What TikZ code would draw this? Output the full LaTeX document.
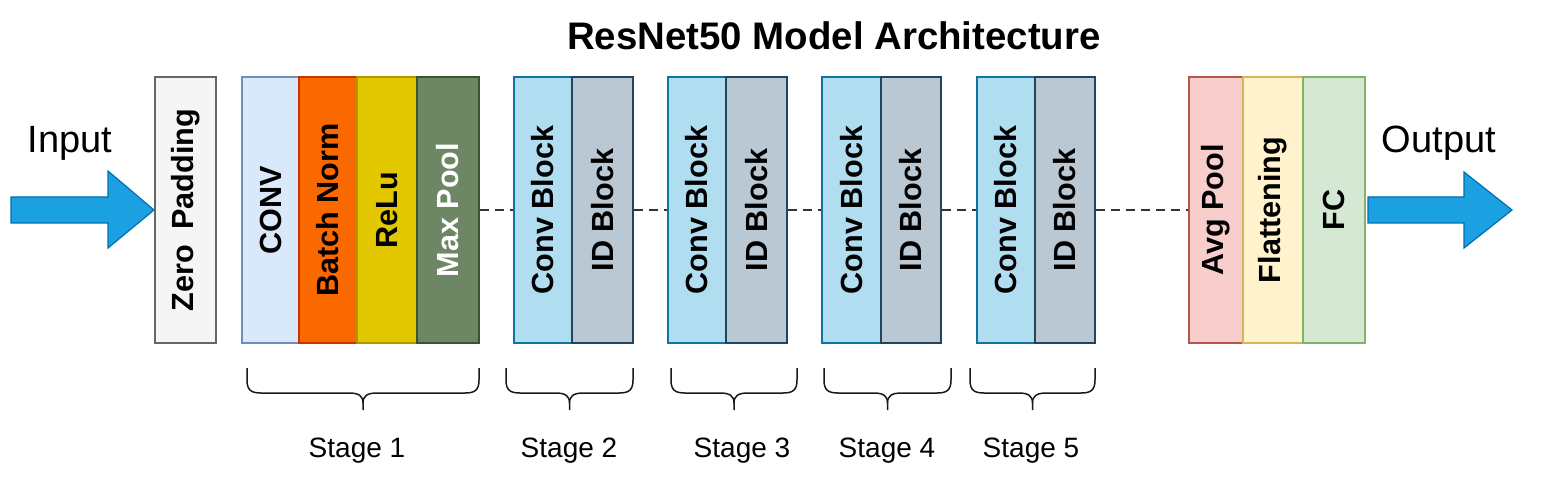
\documentclass[tikz,border=0pt]{standalone}
\usepackage{fontspec}
\setmainfont{Liberation Sans}
\usetikzlibrary{fit}
\definecolor{zpF}{HTML}{F5F5F5}\definecolor{zpD}{HTML}{666666}
\definecolor{cvF}{HTML}{DAE8FC}\definecolor{cvD}{HTML}{6C8EBF}
\definecolor{bnF}{HTML}{FA6800}\definecolor{bnD}{HTML}{C73500}
\definecolor{reF}{HTML}{E3C800}\definecolor{reD}{HTML}{B09500}
\definecolor{mpF}{HTML}{6D8764}\definecolor{mpD}{HTML}{3A5431}
\definecolor{cbF}{HTML}{B1DDF0}\definecolor{cbD}{HTML}{10739E}
\definecolor{idF}{HTML}{BAC8D3}\definecolor{idD}{HTML}{23445D}
\definecolor{apF}{HTML}{F8CECC}\definecolor{apD}{HTML}{B85450}
\definecolor{flF}{HTML}{FFF2CC}\definecolor{flD}{HTML}{D6B656}
\definecolor{fcF}{HTML}{D5E8D4}\definecolor{fcD}{HTML}{82B366}
\definecolor{arF}{HTML}{1BA1E2}\definecolor{arD}{HTML}{006EAF}
\newcommand\stagebrace[2]{%
  \draw[bracestyle] (#1,368) -- (#1,380)
    .. controls (#1,390) and ({#1+4},393) .. ({#1+14},393)
    -- ({(#1+#2)/2-14},393)
    .. controls ({(#1+#2)/2-4},393) and ({(#1+#2)/2},396) .. ({(#1+#2)/2},403)
    -- ({(#1+#2)/2},410);
  \draw[bracestyle] ({(#1+#2)/2},403)
    .. controls ({(#1+#2)/2},396) and ({(#1+#2)/2+4},393) .. ({(#1+#2)/2+14},393)
    -- ({#2-14},393)
    .. controls ({#2-4},393) and (#2,390) .. (#2,380) -- (#2,368);}
\begin{document}
\begin{tikzpicture}[x=0.5pt,y=-0.5pt,
  layer/.style={draw, line width=1pt, inner sep=0pt},
  vtext/.style={rotate=90, inner sep=0pt,
    font=\bfseries\fontsize{15.3}{18}\selectfont},
  link/.style={draw=black!80, line width=1pt, dash pattern=on 4.5pt off 3pt},
  bracestyle/.style={draw=black!90, line width=0.75pt},
  bigarrow/.style={fill=arF, draw=arD, line width=0.6pt},
  stagelbl/.style={anchor=base, font=\fontsize{14}{16}\selectfont},
  iolbl/.style={anchor=base, font=\fontsize{19}{22}\selectfont}]
\useasboundingbox (0,0) rectangle (1544,492);
\fill[white] (0,0) rectangle (1544,492);

\node[anchor=base, font=\bfseries\fontsize{19.2}{22}\selectfont] (title) at (834,50) {ResNet50 Model Architecture};

% arrows
\draw[bigarrow] (11,197) -- (108,197) -- (108,171) -- (154,210) -- (108,248) -- (108,223) -- (11,223) -- cycle;
\draw[bigarrow] (1368,197) -- (1464,197) -- (1464,172) -- (1512,210) -- (1464,248) -- (1464,223) -- (1368,223) -- cycle;
\node[iolbl] (inlbl) at (70,153) {Input};
\node[iolbl] (outlbl) at (1439,153) {Output};

% layers
\node[layer, fill=zpF, draw=zpD, fit={(155,77) (216,343)}] (zp) {};
\node[layer, fill=cvF, draw=cvD, fit={(242,77) (299,343)}] (conv) {};
\node[layer, fill=bnF, draw=bnD, fit={(299,77) (357,343)}] (bn) {};
\node[layer, fill=reF, draw=reD, fit={(357,77) (417,343)}] (relu) {};
\node[layer, fill=mpF, draw=mpD, fit={(417,77) (479,343)}] (mp) {};
\node[layer, fill=cbF, draw=cbD, fit={(514,77) (572,343)}] (c2) {};
\node[layer, fill=idF, draw=idD, fit={(572,77) (633,343)}] (i2) {};
\node[layer, fill=cbF, draw=cbD, fit={(668,77) (726,343)}] (c3) {};
\node[layer, fill=idF, draw=idD, fit={(726,77) (787,343)}] (i3) {};
\node[layer, fill=cbF, draw=cbD, fit={(822,77) (881,343)}] (c4) {};
\node[layer, fill=idF, draw=idD, fit={(881,77) (941,343)}] (i4) {};
\node[layer, fill=cbF, draw=cbD, fit={(977,77) (1035,343)}] (c5) {};
\node[layer, fill=idF, draw=idD, fit={(1035,77) (1095,343)}] (i5) {};
\node[layer, fill=apF, draw=apD, fit={(1189,77) (1243,343)}] (ap) {};
\node[layer, fill=flF, draw=flD, fit={(1243,77) (1303,343)}] (fl) {};
\node[layer, fill=fcF, draw=fcD, fit={(1303,77) (1365,343)}] (fc) {};

% layer texts
\node[vtext] (zpt) at (zp.center) {Zero\enspace Padding};
\node[vtext] (convt) at (conv.center) {CONV};
\node[vtext] (bnt) at (bn.center) {Batch Norm};
\node[vtext] (relut) at (relu.center) {ReLu};
\node[vtext, text=white] (mpt) at (mp.center) {Max Pool};
\node[vtext] (c2t) at (c2.center) {Conv Block};
\node[vtext] (i2t) at (i2.center) {ID Block};
\node[vtext] (c3t) at (c3.center) {Conv Block};
\node[vtext] (i3t) at (i3.center) {ID Block};
\node[vtext] (c4t) at (c4.center) {Conv Block};
\node[vtext] (i4t) at (i4.center) {ID Block};
\node[vtext] (c5t) at (c5.center) {Conv Block};
\node[vtext] (i5t) at (i5.center) {ID Block};
\node[vtext] (apt) at (ap.center) {Avg Pool};
\node[vtext] (flt) at (fl.center) {Flattening};
\node[vtext] (fct) at (fc.center) {FC};

% dashed links
\draw[link] (mp.east) -- (c2.west);
\draw[link] (i2.east) -- (c3.west);
\draw[link] (i3.east) -- (c4.west);
\draw[link] (i4.east) -- (c5.west);
\draw[link] (i5.east) -- (ap.west);

% braces
\stagebrace{247}{479}
\stagebrace{506}{633}
\stagebrace{671}{797}
\stagebrace{824}{951}
\stagebrace{970}{1095}

\node[stagelbl] (s1) at (357,457) {Stage 1};
\node[stagelbl] (s2) at (569,457) {Stage 2};
\node[stagelbl] (s3) at (742,457) {Stage 3};
\node[stagelbl] (s4) at (887,457) {Stage 4};
\node[stagelbl] (s5) at (1031,457) {Stage 5};
\end{tikzpicture}
\end{document}
